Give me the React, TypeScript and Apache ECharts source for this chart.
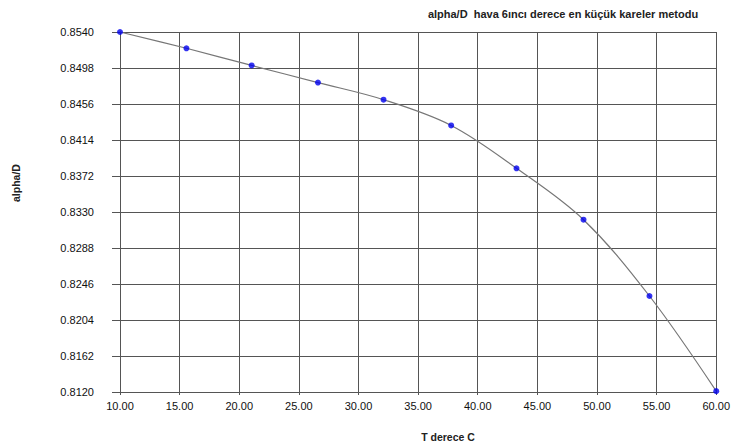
import React, { useEffect, useRef } from "react";
import * as echarts from "echarts";

const titleText = "alpha/D  hava 6ıncı derece en küçük kareler metodu";
const xName = "T derece C";
const yName = "alpha/D";
const temperatures = [10.0, 15.57, 21.04, 26.6, 32.1, 37.77, 43.25, 48.87, 54.4, 60.0];
const alphaD = [0.854, 0.8521, 0.8501, 0.8481, 0.8461, 0.8431, 0.8381, 0.8321, 0.8232, 0.8121];
const yBase = 0.812;
const yTop = 0.854;
const yStep = 0.0042;

export default function App() {
  const ref = useRef<HTMLDivElement>(null);
  useEffect(() => {
    if (!ref.current) return;
    const chart = echarts.init(ref.current, undefined, { renderer: "svg" });
    const pts = temperatures.map((t, i) => [t, +(alphaD[i] - yBase).toFixed(6)]);
    const gridColor = "#555";
    const font = "Liberation Sans";
    chart.setOption({
      animation: false,
      backgroundColor: "#fff",
      textStyle: { fontFamily: font },
      graphic: [
        {
          type: "text",
          x: 563,
          y: 14,
          style: {
            text: titleText,
            fontSize: 11,
            fontWeight: "bold",
            fontFamily: font,
            fill: "#222",
            align: "center",
            verticalAlign: "middle",
          },
        },
        {
          type: "text",
          x: 448,
          y: 437,
          style: {
            text: xName,
            fontSize: 10.5,
            fontWeight: "bold",
            fontFamily: font,
            fill: "#222",
            align: "center",
            verticalAlign: "middle",
          },
        },
        {
          type: "text",
          x: 16,
          y: 183,
          rotation: Math.PI / 2,
          style: {
            text: yName,
            fontSize: 10.5,
            fontWeight: "bold",
            fontFamily: font,
            fill: "#222",
            align: "center",
            verticalAlign: "middle",
          },
        },
      ],
      grid: { left: 120, right: 14, top: 32, bottom: 54, containLabel: false },
      xAxis: {
        type: "value",
        min: 10,
        max: 60,
        interval: 5,
        axisLine: { show: true, lineStyle: { color: gridColor, width: 1 } },
        axisTick: { show: true, length: 3, lineStyle: { color: gridColor } },
        axisLabel: {
          margin: 8,
          fontSize: 11,
          color: "#111",
          fontFamily: font,
          formatter: (v: number) => v.toFixed(2),
        },
        splitLine: { show: true, lineStyle: { color: gridColor, width: 1 } },
      },
      yAxis: {
        type: "value",
        min: 0,
        max: +(yTop - yBase).toFixed(6),
        interval: yStep,
        axisLine: { show: true, lineStyle: { color: gridColor, width: 1 } },
        axisTick: { show: true, length: 8, lineStyle: { color: gridColor } },
        axisLabel: {
          margin: 26,
          fontSize: 11,
          color: "#111",
          fontFamily: font,
          formatter: (v: number) => (yBase + v).toFixed(4),
        },
        splitLine: { show: true, lineStyle: { color: gridColor, width: 1 } },
      },
      series: [
        {
          type: "line",
          data: pts,
          smooth: 0.35,
          showSymbol: false,
          lineStyle: { color: "#777", width: 1.2 },
          z: 2,
        },
        {
          type: "scatter",
          data: pts,
          symbolSize: 6,
          itemStyle: { color: "#0000ee" },
          z: 3,
        },
      ],
    });
    return () => chart.dispose();
  }, []);
  return (
    <div
      ref={ref}
      style={{ position: "fixed", left: 0, top: 0, width: 733, height: 446, background: "#fff" }}
    />
  );
}
